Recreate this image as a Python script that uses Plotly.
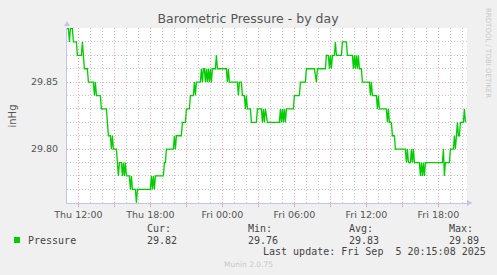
import plotly.graph_objects as go
import pandas as pd

# ---- data ----
thu_times = ["11:00", "11:10", "11:15", "11:20", "11:30", "11:35", "11:50", "11:55", "12:15", "12:20",
             "12:25", "12:30", "12:45", "12:50", "13:15", "13:20", "13:25", "13:30", "13:50", "13:55",
             "14:20", "14:25", "14:30", "14:40", "14:45", "14:50", "14:55", "15:10", "15:15", "15:20",
             "15:25", "15:35", "15:40", "15:45", "15:50", "15:55", "16:00", "16:15", "16:20", "16:25",
             "16:30", "16:45", "16:50", "16:55", "18:00", "18:05", "18:10", "18:15", "18:20", "18:25",
             "19:05", "19:10", "19:15", "19:20", "19:55", "20:00", "20:05", "20:10", "20:35", "20:40",
             "20:55", "21:00", "21:15", "21:20", "21:35", "21:40", "21:45", "21:50", "22:10", "22:15",
             "22:20", "22:25", "22:30", "22:35", "22:40", "22:45", "22:50", "22:55", "23:00", "23:05",
             "23:10", "23:25", "23:30", "23:35"]
thu_values = [29.89, 29.89, 29.88, 29.89, 29.89, 29.88, 29.88, 29.87, 29.87, 29.88,
              29.87, 29.86, 29.86, 29.85, 29.85, 29.84, 29.85, 29.84, 29.84, 29.83,
              29.83, 29.82, 29.81, 29.81, 29.80, 29.81, 29.80, 29.80, 29.79, 29.78,
              29.79, 29.79, 29.78, 29.79, 29.78, 29.79, 29.78, 29.78, 29.77, 29.78,
              29.77, 29.77, 29.76, 29.77, 29.77, 29.78, 29.77, 29.78, 29.77, 29.78,
              29.78, 29.79, 29.79, 29.80, 29.80, 29.81, 29.80, 29.81, 29.81, 29.82,
              29.82, 29.83, 29.83, 29.84, 29.84, 29.85, 29.84, 29.85, 29.85, 29.86,
              29.85, 29.86, 29.86, 29.85, 29.86, 29.85, 29.86, 29.85, 29.86, 29.85,
              29.86, 29.86, 29.87, 29.86]

fri_times = ["00:20", "00:25", "00:30", "00:35", "01:15", "01:20", "01:25", "01:35", "01:40", "01:50",
             "01:55", "02:00", "02:05", "02:20", "02:25", "02:50", "02:55", "03:15", "03:20", "03:25",
             "03:30", "03:35", "03:45", "04:45", "04:50", "04:55", "05:00", "05:05", "05:10", "05:15",
             "05:20", "05:55", "06:00", "06:25", "06:30", "06:55", "07:00", "07:40", "07:50", "07:55",
             "08:35", "08:40", "08:50", "08:55", "09:00", "09:05", "09:10", "09:20", "09:25", "09:30",
             "09:55", "10:00", "10:20", "10:25", "10:50", "10:55", "11:00", "11:05", "11:10", "11:15",
             "11:20", "11:25", "11:35", "11:40", "12:15", "12:20", "12:25", "12:30", "12:50", "12:55",
             "13:00", "13:05", "13:40", "13:45", "13:50", "13:55", "14:05", "14:10", "14:20", "14:25",
             "15:15", "15:20", "15:25", "15:30", "15:40", "15:45", "15:50", "15:55", "16:00", "16:25",
             "16:30", "16:35", "16:40", "16:45", "16:50", "16:55", "18:20", "18:25", "18:30", "18:35",
             "18:55", "19:00", "19:15", "19:20", "19:25", "19:30", "19:35", "19:40", "19:45", "19:50",
             "20:05", "20:10", "20:15"]
fri_values = [29.86, 29.85, 29.86, 29.85, 29.85, 29.84, 29.85, 29.85, 29.84, 29.84,
              29.83, 29.84, 29.83, 29.83, 29.82, 29.82, 29.83, 29.83, 29.82, 29.83,
              29.82, 29.83, 29.82, 29.82, 29.83, 29.82, 29.83, 29.82, 29.83, 29.82,
              29.83, 29.83, 29.84, 29.84, 29.85, 29.85, 29.86, 29.86, 29.85, 29.86,
              29.86, 29.87, 29.87, 29.86, 29.87, 29.86, 29.87, 29.87, 29.88, 29.87,
              29.87, 29.88, 29.88, 29.87, 29.87, 29.86, 29.87, 29.86, 29.87, 29.86,
              29.87, 29.86, 29.86, 29.85, 29.85, 29.84, 29.85, 29.84, 29.84, 29.83,
              29.84, 29.83, 29.83, 29.82, 29.83, 29.82, 29.82, 29.81, 29.81, 29.80,
              29.80, 29.79, 29.80, 29.79, 29.79, 29.80, 29.79, 29.80, 29.79, 29.79,
              29.78, 29.79, 29.78, 29.79, 29.78, 29.79, 29.79, 29.80, 29.78, 29.79,
              29.79, 29.80, 29.80, 29.81, 29.80, 29.81, 29.82, 29.81, 29.81, 29.82,
              29.82, 29.83, 29.82]

tick_times = ["2025-09-04 12:00", "2025-09-04 15:00", "2025-09-04 18:00", "2025-09-04 21:00",
              "2025-09-05 00:00", "2025-09-05 03:00", "2025-09-05 06:00", "2025-09-05 09:00",
              "2025-09-05 12:00", "2025-09-05 15:00", "2025-09-05 18:00"]
tick_labels = ["Thu 12:00", "", "Thu 18:00", "", "Fri 00:00", "", "Fri 06:00", "",
               "Fri 12:00", "", "Fri 18:00"]
y_tick_vals = [29.80, 29.85]
y_tick_labels = ["29.80", "29.85"]
y_minor_vals = [29.76, 29.77, 29.78, 29.79, 29.81, 29.82, 29.83, 29.84, 29.86, 29.87, 29.88, 29.89]

series_name = "Pressure"
stat_labels = ["Cur:", "Min:", "Avg:", "Max:"]
stat_values = ["29.82", "29.76", "29.83", "29.89"]
last_update = "Last update: Fri Sep\u00a0 5 20:15:08 2025"
title = "Barometric Pressure - by day"
unit = "inHg"

times = pd.to_datetime(["2025-09-04 " + t for t in thu_times] + ["2025-09-05 " + t for t in fri_times])
values = thu_values + fri_values
x_minor_vals = [t for t in pd.date_range("2025-09-04 11:00", "2025-09-05 20:00", freq="h")
                if t.hour % 3 != 0]

# ---- figure ----
W, H = 497, 275
L, R, T, B = 67, 30, 28, 72
PW, PH = W - L - R, H - T - B

def px(x):
    return (x - L) / PW

def py(y):
    return (H - B - y) / PH

GREEN = "#00CC00"
MAJ = "#eeaaaa"
MINC = "#c8c8c8"
AXC = "#c4c4ee"

fig = go.Figure()
fig.add_trace(go.Scatter(x=times, y=values, mode="lines",
                         line=dict(color=GREEN, width=1.3), showlegend=False,
                         hoverinfo="skip"))

fig.update_layout(
    width=W, height=H,
    margin=dict(l=L, r=R, t=T, b=B, pad=0),
    paper_bgcolor="#F0F0F0", plot_bgcolor="#FFFFFF",
    title=dict(text=title, x=248 / W, xanchor="center", y=1 - 19 / H, yanchor="middle",
               font=dict(family="DejaVu Sans", size=12.5, color="#555555")),
    showlegend=False,
)

fig.update_xaxes(
    type="date",
    range=["2025-09-04 11:03", "2025-09-05 20:23"],
    tickmode="array", tickvals=tick_times, ticktext=tick_labels,
    tickfont=dict(family="DejaVu Sans", size=9.5, color="#555555"),
    ticks="outside", ticklen=3, tickcolor=MAJ, tickwidth=1,
    showgrid=True, gridcolor=MAJ, gridwidth=1, griddash="1px,2px",
    minor=dict(tickmode="array", tickvals=x_minor_vals, showgrid=True,
               gridcolor=MINC, gridwidth=1, griddash="1px,2px"),
    showline=True, linecolor=AXC, linewidth=1,
    zeroline=False, fixedrange=True,
)
fig.update_yaxes(
    range=[29.7598, 29.8904],
    tickmode="array", tickvals=y_tick_vals, ticktext=y_tick_labels,
    tickfont=dict(family="DejaVu Sans", size=9.5, color="#555555"),
    ticks="", ticklabelstandoff=6,
    showgrid=True, gridcolor=MAJ, gridwidth=1, griddash="1px,2px",
    minor=dict(tickmode="array", tickvals=y_minor_vals, showgrid=True,
               gridcolor=MINC, gridwidth=1, griddash="1px,2px"),
    showline=True, linecolor=AXC, linewidth=1,
    zeroline=False, fixedrange=True,
)

ann = []
ann.append(dict(text=unit, xref="paper", yref="paper", x=px(12), y=0.5, textangle=-90,
                showarrow=False, xanchor="center", yanchor="middle",
                font=dict(family="DejaVu Sans", size=10, color="#555555")))
mono = dict(family="DejaVu Sans Mono", size=10, color="#444444")
ann.append(dict(text=series_name, xref="paper", yref="paper", x=px(26), y=py(240),
                showarrow=False, xanchor="left", yanchor="middle", font=mono))
stat_x = [145, 246, 347, 447]
for sx, lab, val in zip(stat_x, stat_labels, stat_values):
    ann.append(dict(text=lab, xref="paper", yref="paper", x=px(sx), y=py(228),
                    showarrow=False, xanchor="left", yanchor="middle", font=mono))
    ann.append(dict(text=val, xref="paper", yref="paper", x=px(sx), y=py(240),
                    showarrow=False, xanchor="left", yanchor="middle", font=mono))
ann.append(dict(text=last_update, xref="paper", yref="paper", x=px(261), y=py(251),
                showarrow=False, xanchor="left", yanchor="middle", font=mono))
ann.append(dict(text="Munin 2.0.75", xref="paper", yref="paper", x=px(248), y=py(264),
                showarrow=False, xanchor="center", yanchor="middle",
                font=dict(family="DejaVu Sans", size=7.5, color="#c8c8c8")))
ann.append(dict(text="RRDTOOL / TOBI OETIKER", xref="paper", yref="paper", x=px(488), y=py(53),
                textangle=90, showarrow=False, xanchor="center", yanchor="middle",
                font=dict(family="DejaVu Sans", size=7, color="#c8c8c8")))
fig.update_layout(annotations=ann)

shapes = []
# legend colour box
shapes.append(dict(type="rect", xref="paper", yref="paper",
                   x0=px(14), x1=px(20), y0=py(243), y1=py(237),
                   fillcolor=GREEN, line=dict(width=0)))
# axis arrows
shapes.append(dict(type="path", xref="paper", yref="paper",
                   path=f"M {px(64)} {py(26)} L {px(70)} {py(26)} L {px(67)} {py(21)} Z",
                   fillcolor=AXC, line=dict(width=0)))
shapes.append(dict(type="path", xref="paper", yref="paper",
                   path=f"M {px(467)} {py(200)} L {px(467)} {py(206)} L {px(472.5)} {py(203)} Z",
                   fillcolor=AXC, line=dict(width=0)))
fig.update_layout(shapes=shapes)

fig.write_html("out.html")
